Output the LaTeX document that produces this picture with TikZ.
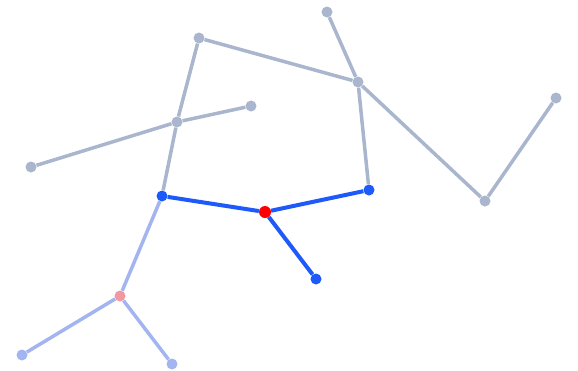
\documentclass[tikz,border=0pt]{standalone}
\usepackage{tikz}
\usetikzlibrary{positioning}
\definecolor{edgegray}{RGB}{169,182,206}
\definecolor{pathblue}{RGB}{30,90,250}
\definecolor{paleblue}{RGB}{163,181,240}
\definecolor{palepink}{RGB}{242,152,162}
\definecolor{rootred}{RGB}{255,0,0}
\begin{document}
\begin{tikzpicture}[
        x=1pt, y=-1pt,
        dot/.style={circle, fill=#1, draw=none, inner sep=0pt, minimum size=11pt},
        link/.style={draw=#1, line width=3.5pt}
    ]
        \useasboundingbox (0,0) rectangle (578,370);
        % gray part
        \node[dot=edgegray] (top) at (327,12) {};
        \node[dot=edgegray] (upleft) at (199,38) {};
        \node[dot=edgegray] (hub) at (358,82) {};
        \node[dot=edgegray] (farright) at (556,98) {};
        \node[dot=edgegray] (mid) at (251,106) {};
        \node[dot=edgegray] (cross) at (177,122) {};
        \node[dot=edgegray] (farleft) at (31,167) {};
        \node[dot=edgegray] (valley) at (485,201) {};
        % blue part
        \node[dot=pathblue] (left) at (162,196) {};
        \node[dot=pathblue] (right) at (369,190) {};
        \node[dot=rootred, minimum size=12pt] (root) at (265,212) {};
        \node[dot=pathblue] (down) at (316,279) {};
        % pale part
        \node[dot=palepink] (fork) at (120,296) {};
        \node[dot=paleblue] (leafa) at (22,355) {};
        \node[dot=paleblue] (leafb) at (172,364) {};

        \draw[link=edgegray] (top) -- (hub);
        \draw[link=edgegray] (upleft) -- (hub);
        \draw[link=edgegray] (upleft) -- (cross);
        \draw[link=edgegray] (cross) -- (left);
        \draw[link=edgegray] (farleft) -- (cross);
        \draw[link=edgegray] (cross) -- (mid);
        \draw[link=edgegray] (hub) -- (right);
        \draw[link=edgegray] (hub) -- (valley);
        \draw[link=edgegray] (valley) -- (farright);

        \draw[link=pathblue, line width=4pt] (left) -- (root);
        \draw[link=pathblue, line width=4pt] (root) -- (right);
        \draw[link=pathblue, line width=4pt] (root) -- (down);

        \draw[link=paleblue] (left) -- (fork);
        \draw[link=paleblue] (fork) -- (leafa);
        \draw[link=paleblue] (fork) -- (leafb);
    \end{tikzpicture}
\end{document}
